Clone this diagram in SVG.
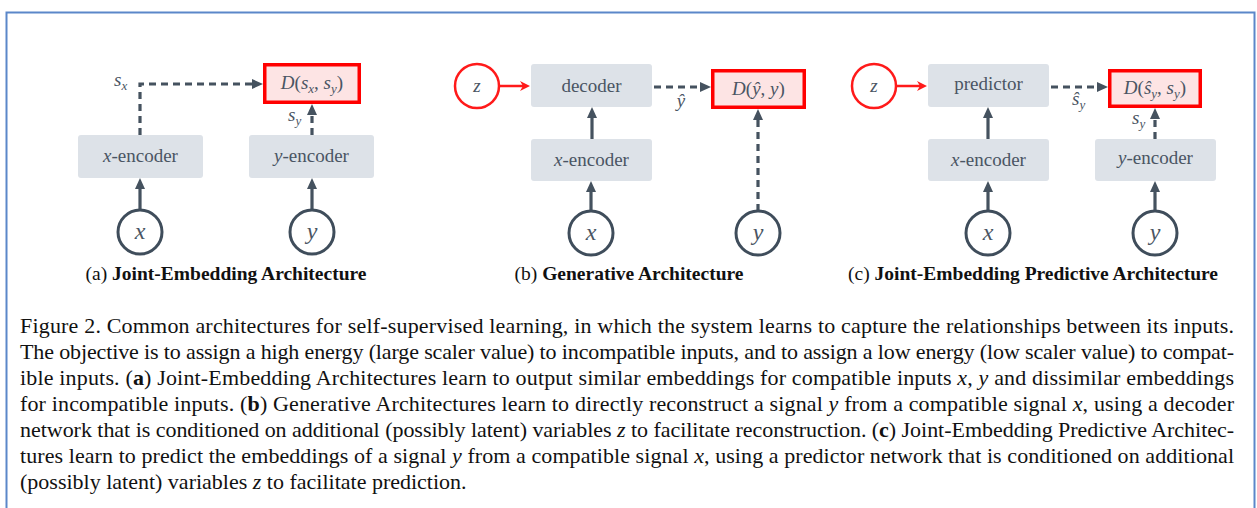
<svg xmlns="http://www.w3.org/2000/svg" width="1257" height="508" viewBox="0 0 1257 508">
<style>
.box{fill:#dde2e8;stroke:none}
.dbox{fill:#fde4e4;stroke:#ff0000;stroke-width:3.5}
.lbl{font-family:"Liberation Serif",serif;font-size:19px;fill:#4a5563}
.math{font-family:"Liberation Serif",serif;font-style:italic;font-size:19px;fill:#4a5563}
.cm{font-size:24px}
.sub{font-size:13px}
.circ{fill:#ffffff;stroke:#3f4d5b;stroke-width:3}
.zc{fill:#ffffff;stroke:#ff1a1a;stroke-width:2.5}
.solid{fill:none;stroke:#45525f;stroke-width:3.2}
.dash{fill:none;stroke:#45525f;stroke-width:3.2;stroke-dasharray:7 5}
.red{fill:none;stroke:#ff1a1a;stroke-width:2.5}
.cap{font-family:"Liberation Serif",serif;font-size:19.5px;fill:#111111}
.txt{font-family:"Liberation Serif",serif;font-size:22px;fill:#111111}
.mi{font-style:italic}
</style>
<defs>
<marker id="ah" markerUnits="userSpaceOnUse" markerWidth="12" markerHeight="12" refX="5" refY="5" orient="auto">
<path d="M0,0 L11,5 L0,10 z" fill="#45525f"/>
</marker>
<marker id="ahr" markerUnits="userSpaceOnUse" markerWidth="12" markerHeight="12" refX="5" refY="5" orient="auto">
<path d="M0,0 L10,5 L0,10 L3,5 z" fill="#ff1a1a"/>
</marker>
</defs>
<rect x="0" y="0" width="1257" height="508" fill="#ffffff"/>
<rect id="frame" x="6.5" y="12.5" width="1248" height="520" fill="none" stroke="#5b87c9" stroke-width="2"/>

<g id="connectors">
<path class="solid" d="M140,210 V184" marker-end="url(#ah)"/>
<path class="solid" d="M312,210 V184" marker-end="url(#ah)"/>
<path class="dash" d="M140,135 V84 H257" marker-end="url(#ah)"/>
<path class="dash" d="M312,135 V110" marker-end="url(#ah)"/>
<path class="red" d="M499,86 H525" marker-end="url(#ahr)"/>
<path class="solid" d="M592,139 V113" marker-end="url(#ah)"/>
<path class="solid" d="M591,211 V187" marker-end="url(#ah)"/>
<path class="dash" d="M654,87 H705" marker-end="url(#ah)"/>
<path class="dash" d="M758,211 V115" marker-end="url(#ah)"/>
<path class="red" d="M896,86 H922" marker-end="url(#ahr)"/>
<path class="solid" d="M988,139 V113" marker-end="url(#ah)"/>
<path class="solid" d="M988,211 V187" marker-end="url(#ah)"/>
<path class="solid" d="M1155,211 V187" marker-end="url(#ah)"/>
<path class="dash" d="M1051,87 H1102" marker-end="url(#ah)"/>
<path class="dash" d="M1155,139 V114" marker-end="url(#ah)"/>
</g>

<g id="edge-labels">
<text class="math" x="114" y="86">s<tspan class="sub" dy="4">x</tspan></text>
<text class="math" x="288" y="121">s<tspan class="sub" dy="4">y</tspan></text>
<text class="math" x="681" y="107" text-anchor="middle">ŷ</text>
<text class="math" x="1072" y="105">ŝ<tspan class="sub" dy="4">y</tspan></text>
<text class="math" x="1132" y="124">s<tspan class="sub" dy="4">y</tspan></text>
</g>

<g id="a-xenc"><rect class="box" x="78" y="135" width="125" height="43" rx="3"/><text class="lbl" x="140.5" y="162" text-anchor="middle"><tspan class="mi">x</tspan>-encoder</text></g>
<g id="a-yenc"><rect class="box" x="249" y="135" width="125" height="43" rx="3"/><text class="lbl" x="311.5" y="162" text-anchor="middle"><tspan class="mi">y</tspan>-encoder</text></g>
<g id="a-D"><rect class="dbox" x="264.75" y="64.75" width="94.5" height="37.5"/><text class="math" x="312" y="89" text-anchor="middle">D<tspan font-style="normal">(</tspan>s<tspan class="sub" dy="4">x</tspan><tspan dy="-4" font-style="normal">, </tspan>s<tspan class="sub" dy="4">y</tspan><tspan dy="-4" font-style="normal">)</tspan></text></g>
<g id="a-x"><circle class="circ" cx="140" cy="232" r="22"/><text class="math cm" x="140" y="239" text-anchor="middle">x</text></g>
<g id="a-y"><circle class="circ" cx="312" cy="232" r="22"/><text class="math cm" x="312" y="239" text-anchor="middle">y</text></g>
<g id="a-cap"><text class="cap" x="226" y="280" text-anchor="middle">(a) <tspan font-weight="bold">Joint-Embedding Architecture</tspan></text></g>

<g id="b-z"><circle class="zc" cx="477" cy="86" r="22"/><text class="math" x="477" y="92" text-anchor="middle" fill="#ff3333" font-size="22">z</text></g>
<g id="b-dec"><rect class="box" x="531" y="64" width="121" height="43" rx="3"/><text class="lbl" x="591.5" y="92" text-anchor="middle">decoder</text></g>
<g id="b-D"><rect class="dbox" x="712.75" y="70.75" width="91.5" height="36.5"/><text class="math" x="758.5" y="95" text-anchor="middle">D<tspan font-style="normal">(</tspan>ŷ<tspan font-style="normal">, </tspan>y<tspan font-style="normal">)</tspan></text></g>
<g id="b-xenc"><rect class="box" x="531" y="139" width="121" height="42" rx="3"/><text class="lbl" x="591.5" y="166" text-anchor="middle"><tspan class="mi">x</tspan>-encoder</text></g>
<g id="b-x"><circle class="circ" cx="591" cy="233" r="22"/><text class="math cm" x="591" y="240" text-anchor="middle">x</text></g>
<g id="b-y"><circle class="circ" cx="758" cy="233" r="22"/><text class="math cm" x="758" y="240" text-anchor="middle">y</text></g>
<g id="b-cap"><text class="cap" x="629" y="280" text-anchor="middle">(b) <tspan font-weight="bold">Generative Architecture</tspan></text></g>

<g id="c-z"><circle class="zc" cx="874" cy="86" r="22"/><text class="math" x="874" y="92" text-anchor="middle" fill="#ff3333" font-size="22">z</text></g>
<g id="c-pred"><rect class="box" x="928" y="64" width="121" height="43" rx="3"/><text class="lbl" x="988.5" y="90" text-anchor="middle">predictor</text></g>
<g id="c-D"><rect class="dbox" x="1109.75" y="70.75" width="90.5" height="35.5"/><text class="math" x="1155" y="94" text-anchor="middle">D<tspan font-style="normal">(</tspan>ŝ<tspan class="sub" dy="4">y</tspan><tspan dy="-4" font-style="normal">, </tspan>s<tspan class="sub" dy="4">y</tspan><tspan dy="-4" font-style="normal">)</tspan></text></g>
<g id="c-xenc"><rect class="box" x="928" y="139" width="121" height="42" rx="3"/><text class="lbl" x="988.5" y="166" text-anchor="middle"><tspan class="mi">x</tspan>-encoder</text></g>
<g id="c-yenc"><rect class="box" x="1095" y="139" width="121" height="42" rx="3"/><text class="lbl" x="1155.5" y="164" text-anchor="middle"><tspan class="mi">y</tspan>-encoder</text></g>
<g id="c-x"><circle class="circ" cx="988" cy="233" r="22"/><text class="math cm" x="988" y="240" text-anchor="middle">x</text></g>
<g id="c-y"><circle class="circ" cx="1155" cy="233" r="22"/><text class="math cm" x="1155" y="240" text-anchor="middle">y</text></g>
<g id="c-cap"><text class="cap" x="1033" y="280" text-anchor="middle">(c) <tspan font-weight="bold">Joint-Embedding Predictive Architecture</tspan></text></g>

<g id="caption">
<text class="txt" x="20" y="333" textLength="1214" lengthAdjust="spacing">Figure 2.  Common architectures for self-supervised learning, in which the system learns to capture the relationships between its inputs.</text>
<text class="txt" x="20" y="359" textLength="1214" lengthAdjust="spacing">The objective is to assign a high energy (large scaler value) to incompatible inputs, and to assign a low energy (low scaler value) to compat-</text>
<text class="txt" x="20" y="385" textLength="1214" lengthAdjust="spacing">ible inputs. (<tspan font-weight="bold">a</tspan>) Joint-Embedding Architectures learn to output similar embeddings for compatible inputs <tspan class="mi">x</tspan>, <tspan class="mi">y</tspan> and dissimilar embeddings</text>
<text class="txt" x="20" y="411" textLength="1214" lengthAdjust="spacing">for incompatible inputs. (<tspan font-weight="bold">b</tspan>) Generative Architectures learn to directly reconstruct a signal <tspan class="mi">y</tspan> from a compatible signal <tspan class="mi">x</tspan>, using a decoder</text>
<text class="txt" x="20" y="437" textLength="1214" lengthAdjust="spacing">network that is conditioned on additional (possibly latent) variables <tspan class="mi">z</tspan> to facilitate reconstruction. (<tspan font-weight="bold">c</tspan>) Joint-Embedding Predictive Architec-</text>
<text class="txt" x="20" y="463" textLength="1214" lengthAdjust="spacing">tures learn to predict the embeddings of a signal <tspan class="mi">y</tspan> from a compatible signal <tspan class="mi">x</tspan>, using a predictor network that is conditioned on additional</text>
<text class="txt" x="20" y="489">(possibly latent) variables <tspan class="mi">z</tspan> to facilitate prediction.</text>
</g>
</svg>
